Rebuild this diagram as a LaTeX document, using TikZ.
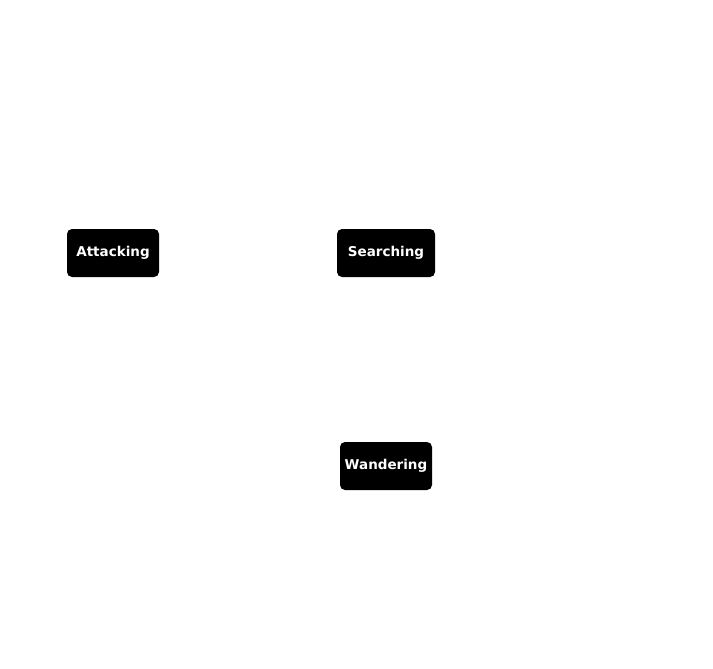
\documentclass[tikz,border=0pt]{standalone}
\usepackage{fontspec}
\setmainfont{DejaVu Sans}
\begin{document}
\begin{tikzpicture}[x=1pt,y=-1pt,
  state/.style={fill=black,rounded corners=5pt,minimum height=48pt,inner xsep=0pt,
    text=white,font=\bfseries\fontsize{13.5}{15}\selectfont}]
\useasboundingbox (0,0) rectangle (713,669);
\node[state,minimum width=92pt] (att) at (113,253) {Attacking};
\node[state,minimum width=98pt] (sea) at (386,253) {Searching};
\node[state,minimum width=92pt] (wan) at (386,466) {Wandering};
\end{tikzpicture}
\end{document}
